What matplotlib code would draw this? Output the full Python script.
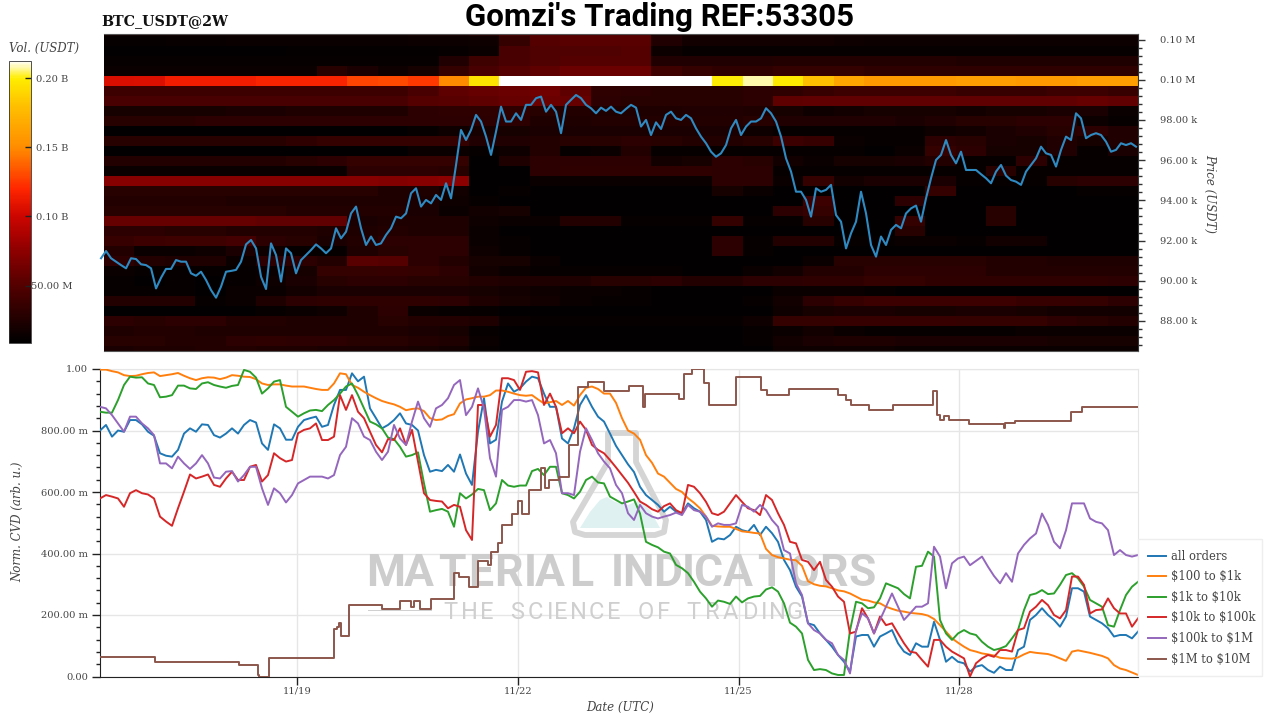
# coding: utf-8
import numpy as np
import matplotlib
matplotlib.use('Agg')
import matplotlib.pyplot as plt
from matplotlib.colors import LinearSegmentedColormap, Normalize
from matplotlib.patches import Polygon, Rectangle
from matplotlib.textpath import TextPath
from matplotlib.font_manager import FontProperties
from matplotlib.ticker import FixedLocator

# --- price, thousands of USDT, one reading every 5 px of the time axis
price = [91.12, 91.48, 91.12, 90.95, 90.78, 90.62, 91.12, 91.08, 90.82, 90.78, 90.62, 89.62, 90.15, 90.59, 90.59,
         91.03, 90.95, 90.95, 90.37, 90.25, 90.45, 90.04, 89.54, 89.16, 89.71, 90.45, 90.49, 90.54, 90.95, 91.81,
         92.03, 91.61, 90.2, 89.59, 91.86, 91.28, 89.96, 91.61, 91.37, 90.37, 91.03, 91.28, 91.53, 91.81, 91.61,
         91.37, 91.61, 92.61, 92.11, 92.44, 93.35, 93.69, 92.61, 91.78, 92.2, 91.78, 91.86, 92.28, 92.61, 93.19,
         93.11, 93.35, 94.35, 94.6, 93.69, 94.02, 93.85, 94.27, 94.02, 94.85, 94.1, 95.76, 97.5, 97.0, 97.5,
         98.25, 97.92, 97.17, 96.26, 97.42, 98.66, 97.92, 97.92, 98.33, 98.0, 98.75, 98.75, 99.08, 99.16, 98.41,
         98.75, 98.41, 97.34, 98.75, 99.0, 99.24, 99.08, 98.75, 98.58, 98.33, 98.61, 98.45, 98.66, 98.41, 98.33,
         98.55, 98.75, 98.61, 97.67, 98.0, 97.25, 97.88, 97.55, 98.25, 98.41, 98.08, 98.0, 98.25, 98.08, 97.58,
         97.17, 96.84, 96.42, 96.17, 96.34, 96.75, 97.58, 98.0, 97.25, 97.67, 97.92, 97.92, 98.08, 98.58, 98.33,
         97.92, 97.17, 96.09, 95.43, 94.43, 94.43, 94.02, 93.19, 94.6, 94.43, 94.52, 94.77, 93.27, 92.94, 91.61,
         92.36, 92.94, 94.43, 93.35, 91.78, 91.2, 92.2, 91.78, 92.53, 92.78, 92.61, 93.35, 93.6, 93.74, 92.94,
         94.1, 95.1, 96.01, 96.26, 97.0, 96.26, 95.84, 96.42, 95.51, 95.51, 95.51, 95.3, 95.1, 94.85, 95.43,
         95.76, 95.23, 95.01, 94.93, 94.77, 95.43, 95.76, 96.09, 96.67, 96.34, 96.26, 95.68, 96.51, 97.17, 97.0,
         98.33, 98.08, 97.09, 97.25, 97.34, 97.25, 96.92, 96.42, 96.51, 96.84, 96.75, 96.84, 96.67]

# --- normalized CVD, one reading every 6 px of the time axis
all_orders = [.80, .818, .78, .80, .796, .834, .834, .82, .796, .783, .726, .718, .715, .737, .79, .807, .796, .82,
              .818, .785, .777, .79, .807, .79, .818, .834, .826, .758, .737, .82, .807, .77, .77, .812, .834, .84,
              .845, .812, .818, .883, .932, .932, .986, .96, .975, .872, .84, .807, .818, .834, .856, .823, .818,
              .80, .72, .666, .672, .668, .688, .666, .722, .66, .623, .796, .905, .758, .77, .894, .953, .926,
              .937, .959, .975, .97, .92, .877, .877, .774, .758, .807, .883, .915, .877, .845, .829, .79, .75,
              .72, .69, .665, .617, .59, .574, .558, .536, .552, .536, .531, .563, .547, .536, .509, .438, .449,
              .446, .46, .487, .476, .471, .493, .46, .487, .466, .438, .379, .346, .292, .26, .173, .167, .14,
              .119, .097, .07, .048, .016, .13, .135, .135, .097, .13, .14, .151, .108, .081, .07, .108, .097,
              .097, .178, .119, .048, .064, .048, .043, .016, .032, .037, .021, .012, .032, .021, .021, .086,
              .097, .184, .20, .222, .20, .184, .162, .195, .287, .287, .276, .195, .184, .173, .157, .13, .135,
              .135, .124, .146]
usd_100_1k = [.998, .998, .993, .989, .98, .977, .978, .983, .987, .989, .977, .98, .983, .987, .978, .97, .964,
              .97, .973, .972, .967, .972, .98, .978, .975, .974, .967, .953, .948, .95, .95, .946, .943, .943,
              .943, .939, .935, .932, .932, .953, .986, .983, .948, .939, .926, .915, .905, .896, .89, .885, .877,
              .866, .87, .872, .863, .84, .834, .836, .847, .853, .888, .901, .905, .91, .91, .915, .93, .93,
              .926, .92, .915, .913, .915, .901, .888, .892, .896, .883, .896, .881, .915, .939, .943, .935, .92,
              .92, .89, .84, .80, .79, .77, .72, .695, .66, .65, .63, .61, .60, .58, .565, .547, .52, .49, .488,
              .487, .487, .48, .472, .47, .467, .465, .415, .395, .388, .384, .38, .378, .36, .31, .30, .295,
              .293, .287, .28, .277, .27, .26, .25, .247, .241, .238, .227, .22, .214, .211, .207, .205, .203,
              .198, .187, .167, .146, .124, .11, .097, .086, .081, .075, .072, .068, .061, .059, .058, .062, .072,
              .08, .077, .075, .073, .067, .059, .051, .081, .085, .081, .077, .072, .067, .059, .037, .026, .021,
              .013, .005]
usd_1k_10k = [.861, .858, .858, .899, .948, .975, .972, .973, .953, .948, .908, .91, .915, .946, .946, .937, .935,
              .953, .957, .948, .943, .939, .945, .948, .997, .991, .972, .92, .937, .959, .964, .877, .861, .845,
              .856, .865, .867, .863, .883, .899, .92, .943, .953, .915, .872, .829, .82, .807, .777, .772, .747,
              .715, .72, .729, .628, .536, .541, .545, .536, .487, .596, .579, .592, .61, .606, .541, .563, .639,
              .621, .617, .621, .621, .668, .675, .655, .682, .682, .596, .59, .579, .601, .639, .65, .631, .628,
              .585, .574, .563, .569, .576, .53, .438, .428, .42, .406, .40, .363, .352, .336, .308, .276, .254,
              .227, .247, .243, .236, .26, .241, .254, .26, .262, .283, .29, .276, .238, .175, .162, .14, .054,
              .021, .024, .021, .01, .005, .005, .15, .243, .238, .222, .225, .254, .303, .295, .287, .268, .254,
              .357, .36, .406, .39, .184, .14, .119, .14, .151, .14, .135, .113, .097, .086, .091, .099, .124,
              .151, .216, .265, .27, .281, .268, .27, .298, .33, .336, .319, .292, .249, .238, .227, .167, .162,
              .216, .265, .292, .308]
usd_10k_100k = [.579, .59, .585, .579, .552, .596, .606, .596, .592, .579, .52, .504, .49, .547, .601, .657, .644,
                .65, .657, .623, .617, .644, .666, .639, .639, .682, .688, .634, .655, .726, .71, .699, .704, .791,
                .802, .807, .823, .769, .769, .78, .915, .867, .915, .861, .84, .796, .753, .729, .772, .769, .807,
                .753, .802, .699, .596, .574, .571, .569, .547, .558, .552, .476, .444, .883, .883, .78, .818, .97,
                .97, .964, .932, .991, .993, .989, .883, .92, .877, .791, .807, .791, .829, .802, .753, .737, .726,
                .704, .68, .655, .63, .60, .569, .558, .544, .536, .554, .563, .541, .531, .623, .617, .596, .568,
                .531, .525, .536, .563, .59, .568, .547, .541, .525, .59, .574, .531, .493, .438, .433, .379, .373,
                .346, .373, .314, .292, .26, .243, .14, .146, .222, .189, .14, .195, .167, .173, .14, .108, .081,
                .077, .054, .032, .119, .119, .097, .081, .07, .059, .0, .043, .059, .07, .064, .086, .086, .081,
                .151, .157, .211, .227, .249, .232, .20, .189, .216, .325, .325, .298, .205, .216, .218, .254, .222,
                .205, .205, .162, .189]
usd_100k_1m = [.877, .872, .85, .823, .796, .845, .845, .823, .807, .785, .693, .693, .677, .715, .693, .675, .693,
               .72, .693, .647, .644, .666, .668, .634, .655, .682, .682, .612, .558, .612, .596, .566, .59, .628,
               .639, .65, .65, .65, .644, .655, .72, .747, .84, .823, .78, .769, .731, .704, .731, .818, .774, .753,
               .829, .894, .84, .812, .872, .883, .905, .948, .964, .85, .877, .937, .872, .71, .65, .867, .877,
               .899, .899, .894, .899, .85, .758, .769, .726, .596, .596, .59, .731, .807, .769, .726, .699, .677,
               .623, .596, .531, .509, .558, .531, .52, .514, .52, .525, .533, .525, .558, .541, .536, .52, .487,
               .498, .493, .493, .498, .558, .552, .536, .558, .541, .509, .487, .411, .40, .303, .265, .173, .151,
               .14, .119, .108, .07, .054, .01, .151, .206, .189, .14, .184, .227, .27, .227, .184, .205, .227,
               .227, .238, .422, .39, .287, .368, .384, .39, .362, .376, .39, .357, .327, .303, .336, .308, .40,
               .428, .449, .465, .53, .493, .438, .417, .476, .563, .563, .563, .514, .503, .498, .476, .395, .411,
               .395, .39, .395]

# the largest size band only moves in steps, so it keeps its own time stamps (day of November)
usd_1m_10m_day = [16.337, 17.07, 18.21, 18.47, 18.484, 18.62, 19.50, 19.54, 19.57, 19.60, 19.71, 20.15, 20.40,
                  20.55, 20.59, 20.67, 20.82, 21.13, 21.20, 21.34, 21.46, 21.60, 21.64, 21.73, 21.79, 21.92,
                  22.00, 22.06, 22.15, 22.32, 22.37, 22.42, 22.56, 22.70, 22.82, 22.95, 23.17, 23.51, 23.70,
                  23.73, 24.19, 24.26, 24.37, 24.53, 24.60, 24.96, 25.30, 25.39, 25.68, 26.35, 26.46, 26.53,
                  26.77, 27.10, 27.64, 27.70, 27.74, 27.79, 27.86, 28.13, 28.61, 28.62, 28.76, 29.52, 29.67, 30.43]
usd_1m_10m = [.062, .048, .037, .005, .0, .059, .156, .162, .173, .131, .232, .218, .246, .227, .246, .221, .252,
              .335, .324, .292, .375, .362, .406, .433, .492, .53, .57, .53, .606, .677, .612, .639, .65, .753,
              .942, .957, .928, .944, .877, .92, .904, .983, .999, .953, .883, .973, .931, .917, .934, .915, .899,
              .883, .866, .883, .929, .85, .834, .847, .834, .821, .807, .825, .831, .861, .875, .875]

# --- order book volume, millions of USDT; rows run from top price bin down, columns are time blocks
volume = [
    [18, 18, 18, 18, 18, 18, 18, 18, 18, 18, 20, 22, 28, 45, 50, 50, 50, 50, 22, 20, 22, 22, 20, 20, 20, 20, 20, 20, 20, 20, 18, 18, 18, 18],
    [12, 12, 13, 13, 14, 14, 14, 14, 14, 14, 15, 15, 16, 35, 50, 52, 52, 52, 25, 18, 18, 18, 18, 18, 16, 15, 15, 15, 15, 15, 15, 15, 15, 15],
    [10, 10, 10, 10, 10, 10, 11, 11, 11, 11, 11, 12, 14, 45, 48, 48, 48, 50, 15, 12, 12, 12, 12, 12, 12, 12, 12, 12, 12, 12, 12, 12, 12, 12],
    [12, 12, 12, 12, 12, 12, 12, 12, 12, 12, 12, 25, 40, 45, 48, 50, 50, 50, 25, 25, 25, 25, 26, 26, 26, 26, 26, 26, 24, 24, 24, 24, 24, 24],
    [14, 14, 14, 14, 14, 14, 14, 28, 22, 16, 20, 35, 45, 50, 55, 60, 60, 60, 40, 35, 32, 32, 35, 35, 35, 32, 32, 32, 32, 32, 32, 32, 32, 32],
    [105, 106, 115, 115, 115, 118, 118, 118, 128, 130, 125, 150, 195, 225, 225, 225, 225, 225, 225, 225, 200, 208, 198, 180, 165, 158, 158, 158, 160, 160, 158, 158, 160, 160],
    [38, 38, 38, 38, 38, 38, 38, 38, 38, 38, 45, 55, 58, 60, 62, 55, 32, 30, 28, 28, 28, 30, 32, 36, 38, 38, 38, 38, 36, 36, 36, 38, 38, 36],
    [45, 45, 45, 45, 45, 45, 45, 45, 45, 45, 50, 52, 55, 58, 60, 58, 30, 28, 28, 28, 28, 30, 55, 56, 56, 56, 56, 56, 56, 56, 56, 56, 58, 56],
    [20, 20, 20, 20, 22, 22, 24, 24, 24, 24, 30, 32, 32, 32, 28, 26, 24, 24, 24, 25, 25, 24, 20, 16, 18, 20, 20, 20, 18, 20, 20, 22, 22, 14],
    [28, 28, 28, 30, 30, 30, 30, 30, 30, 30, 30, 30, 30, 30, 24, 24, 26, 26, 26, 26, 26, 28, 25, 25, 25, 25, 22, 25, 28, 28, 30, 30, 15, 12],
    [10, 10, 10, 10, 10, 10, 10, 10, 10, 10, 12, 16, 20, 20, 22, 22, 22, 22, 22, 22, 22, 16, 12, 12, 12, 12, 12, 16, 18, 22, 25, 28, 30, 25],
    [28, 28, 28, 28, 28, 28, 32, 34, 34, 34, 34, 34, 25, 25, 26, 28, 28, 30, 28, 26, 26, 28, 38, 36, 14, 12, 12, 30, 28, 22, 20, 25, 20, 25],
    [10, 10, 10, 10, 10, 10, 10, 10, 10, 10, 14, 14, 12, 16, 26, 12, 14, 26, 12, 12, 12, 12, 12, 12, 12, 10, 14, 35, 30, 20, 20, 25, 12, 22],
    [26, 26, 26, 26, 26, 26, 28, 30, 34, 34, 34, 34, 10, 24, 30, 30, 30, 30, 18, 20, 30, 28, 18, 14, 20, 20, 22, 26, 12, 12, 30, 12, 12, 12],
    [14, 14, 14, 14, 14, 14, 14, 14, 30, 30, 30, 28, 10, 10, 30, 32, 32, 32, 32, 32, 30, 30, 12, 12, 12, 12, 12, 12, 12, 28, 12, 12, 12, 12],
    [72, 72, 72, 72, 72, 72, 72, 72, 72, 70, 72, 75, 10, 10, 14, 14, 14, 14, 14, 14, 30, 30, 14, 35, 18, 22, 22, 22, 12, 12, 12, 28, 30, 30],
    [28, 28, 28, 28, 28, 28, 28, 28, 28, 24, 24, 18, 10, 12, 10, 10, 10, 10, 10, 10, 20, 14, 10, 10, 10, 10, 10, 35, 10, 10, 10, 10, 12, 12],
    [26, 26, 26, 26, 24, 24, 24, 24, 24, 24, 22, 16, 12, 10, 10, 10, 10, 10, 10, 10, 10, 10, 10, 38, 10, 10, 30, 10, 10, 10, 10, 10, 10, 10],
    [28, 28, 28, 28, 28, 28, 26, 26, 26, 26, 22, 14, 18, 20, 10, 10, 10, 10, 10, 10, 10, 10, 30, 35, 10, 10, 10, 10, 10, 28, 10, 10, 10, 10],
    [58, 58, 58, 58, 58, 56, 56, 56, 22, 24, 24, 24, 16, 14, 14, 26, 26, 12, 12, 12, 34, 12, 12, 28, 10, 10, 35, 10, 10, 28, 10, 10, 10, 10],
    [30, 30, 28, 28, 26, 26, 26, 24, 24, 26, 24, 24, 14, 10, 10, 10, 10, 10, 10, 10, 10, 10, 10, 10, 10, 10, 28, 10, 10, 10, 10, 10, 10, 10],
    [36, 38, 40, 40, 42, 30, 28, 22, 26, 30, 30, 30, 14, 12, 10, 10, 10, 10, 10, 10, 30, 12, 26, 26, 12, 12, 14, 14, 12, 18, 18, 10, 10, 10],
    [26, 14, 14, 16, 22, 16, 12, 12, 24, 28, 30, 30, 16, 12, 10, 10, 10, 10, 10, 10, 30, 12, 10, 10, 10, 10, 10, 10, 10, 10, 10, 10, 10, 10],
    [30, 26, 24, 24, 14, 30, 30, 26, 52, 50, 30, 26, 20, 20, 14, 10, 10, 10, 10, 10, 10, 10, 10, 14, 28, 28, 28, 28, 28, 26, 26, 24, 24, 24],
    [14, 12, 12, 12, 12, 14, 20, 34, 34, 36, 34, 30, 18, 14, 12, 12, 12, 12, 12, 10, 10, 14, 18, 26, 26, 30, 30, 30, 30, 26, 26, 26, 26, 26],
    [12, 10, 12, 10, 12, 16, 22, 28, 30, 30, 28, 28, 26, 24, 24, 24, 28, 28, 30, 26, 26, 30, 30, 32, 32, 34, 34, 32, 32, 32, 32, 32, 32, 30],
    [12, 12, 12, 10, 14, 14, 18, 22, 22, 22, 22, 22, 20, 18, 16, 14, 14, 12, 10, 10, 10, 10, 14, 14, 14, 12, 10, 10, 10, 10, 10, 10, 10, 10],
    [26, 26, 26, 12, 14, 24, 30, 32, 32, 32, 32, 30, 24, 20, 18, 14, 12, 12, 10, 10, 10, 12, 18, 30, 36, 38, 38, 38, 38, 38, 36, 36, 34, 30],
    [10, 10, 10, 10, 10, 12, 14, 16, 24, 30, 14, 12, 12, 10, 10, 10, 10, 10, 10, 10, 10, 10, 16, 20, 22, 22, 20, 20, 22, 22, 20, 18, 18, 18],
    [30, 28, 30, 30, 26, 26, 24, 24, 24, 28, 26, 26, 24, 14, 12, 12, 12, 12, 12, 12, 12, 16, 34, 34, 36, 36, 36, 36, 34, 34, 34, 30, 28, 26],
    [24, 26, 26, 24, 24, 24, 24, 24, 24, 24, 22, 20, 12, 10, 10, 10, 10, 10, 10, 10, 10, 12, 14, 18, 14, 12, 12, 12, 12, 12, 14, 14, 14, 14],
    [28, 28, 26, 26, 30, 32, 30, 30, 28, 28, 26, 24, 14, 10, 10, 10, 10, 10, 10, 10, 10, 12, 18, 22, 24, 24, 22, 22, 22, 22, 22, 20, 20, 20],
    [22, 24, 24, 26, 26, 24, 24, 22, 22, 22, 20, 18, 12, 10, 10, 10, 10, 10, 10, 10, 10, 10, 16, 16, 16, 16, 14, 14, 14, 14, 14, 14, 14, 14],
]

legend_labels = ['all orders', '$100 to $1k', '$1k to $10k', '$10k to $100k', '$100k to $1M', '$1M to $10M']
line_colors = ['#1f77b4', '#ff7f0e', '#2ca02c', '#d62728', '#9467bd', '#8c564b']

price_ticks = [88, 90, 92, 94, 96, 98, 100, 102]
price_labels = ['88.00 k', '90.00 k', '92.00 k', '94.00 k', '96.00 k', '98.00 k', '0.10 M', '0.10 M']
cvd_ticks = [0, .2, .4, .6, .8, 1]
cvd_labels = ['0.00', '200.00 m', '400.00 m', '600.00 m', '800.00 m', '1.00']
date_ticks = [19, 22, 25, 28]
date_labels = ['11/19', '11/22', '11/25', '11/28']
vol_ticks = [50, 100, 150, 200]
vol_labels = ['50.00 M', '0.10 B', '0.15 B', '0.20 B']

W, H = 1280, 720
DAY0, DAY1 = 16.323, 30.427
SERIF = 'DejaVu Serif'
GREY = '#444444'
TICK_SIZE = 7.1

plt.rcParams['font.family'] = SERIF
plt.rcParams['text.parse_math'] = False


def box(x0, y0, x1, y1):
    # pixel box, y from the top, to figure fractions
    return [x0 / W, 1 - y1 / H, (x1 - x0) / W, (y1 - y0) / H]


def fx(x):
    return x / W


def fy(y):
    return 1 - y / H


def spaced_text(ax, s, x0, x1, y, size, weight, color, space):
    # watermark letters spread out to a given pixel width
    fp = FontProperties(family='Roboto', weight=weight, size=size)
    widths = []
    for ch in s:
        w = TextPath((0, 0), ch if ch != ' ' else 'n', size=size * 100 / 72, prop=fp).get_extents().width
        widths.append(w * (space if ch == ' ' else 1))
    gap = (x1 - x0 - sum(widths)) / (len(s) - 1)
    x = x0
    for ch, w in zip(s, widths):
        if ch != ' ':
            ax.text(fx(x), fy(y), ch, transform=fig.transFigure, fontproperties=fp, color=color,
                    va='baseline', ha='left', zorder=1.5, clip_on=False)
        x += w + gap


fig = plt.figure(figsize=(W / 100, H / 100), dpi=100)

# --- top panel: heatmap and price
ax1 = fig.add_axes(box(100, 33.5, 1138, 351))
nrow = len(volume)
ncol = len(volume[0])
day_left = DAY0 + (DAY1 - DAY0) * 4 / 1038
day_edges = np.linspace(day_left, DAY1, ncol + 1)
price_edges = np.linspace(102.68, 102.68 - 0.4975 * nrow, nrow + 1)
vmin, vmax = 8.5, 212.3
stops = [(0, '#000000'), (.204, '#540000'), (.35, '#990000'), (.449, '#cc0500'), (.547, '#ff2600'),
         (.694, '#ff8c00'), (.84, '#ffbf00'), (.94, '#ffed00'), (1, '#ffffff')]
vol_cmap = LinearSegmentedColormap.from_list('vol', stops)
mesh = ax1.pcolormesh(day_edges, price_edges, np.array(volume), cmap=vol_cmap,
                      norm=Normalize(vmin, vmax), shading='flat')
price_days = np.linspace(16.337, 30.40, len(price))
ax1.plot(price_days, price, color='#2f8ac2', lw=1.5, clip_on=False, zorder=3)
ax1.set_xlim(DAY0, DAY1)
ax1.set_ylim(88 - 30 / 20.1, 102 + 6 / 20.1)
ax1.yaxis.tick_right()
ax1.yaxis.set_major_locator(FixedLocator(price_ticks))
ax1.set_yticklabels(price_labels)
ax1.yaxis.set_minor_locator(FixedLocator(list(np.arange(86.8, 102.3, 0.4))))
ax1.tick_params(axis='y', which='major', length=5, width=1, color='#333333', labelsize=TICK_SIZE, labelcolor=GREY, pad=11)
ax1.tick_params(axis='y', which='minor', length=3, width=1, color='#333333')
ax1.set_xticks([])
ax1.spines['left'].set_visible(False)
for side in ['top', 'bottom']:
    ax1.spines[side].set_bounds(day_left, DAY1)
    ax1.spines[side].set_color('#555555')
ax1.spines['right'].set_color('#333333')
fig.text(fx(1210), fy(193), 'Price (USDT)', rotation=270, style='italic', fontsize=8.5, color=GREY,
         ha='center', va='center')
fig.text(fx(101), fy(25), 'BTC_USDT@2W', fontsize=10.3, fontweight='bold', color='#111111', ha='left', va='baseline')
fig.text(fx(660), fy(25.5), "Gomzi's Trading REF:53305", family='Roboto', fontweight='bold', fontsize=22.5,
         color='black', ha='center', va='baseline')

# --- colour bar
cax = fig.add_axes(box(9, 61, 31, 343))
cb = fig.colorbar(mesh, cax=cax)
cb.set_ticks(vol_ticks)
cb.set_ticklabels(vol_labels)
cb.ax.minorticks_off()
cb.ax.tick_params(length=4, width=1, direction='in', color='#222222', labelsize=TICK_SIZE, labelcolor=GREY, pad=15)
for lab in cb.ax.get_yticklabels():
    lab.set_ha('center')
cb.outline.set_edgecolor('#333333')
cb.outline.set_linewidth(0.6)
fig.text(fx(44.5), fy(52), 'Vol. (USDT)', style='italic', fontsize=8.5, color=GREY, ha='center', va='baseline')

# --- bottom panel: normalized CVD
ax2 = fig.add_axes(box(100, 369, 1138, 676.5))
cvd_series = [all_orders, usd_100_1k, usd_1k_10k, usd_10k_100k, usd_100k_1m]
cvd_days = np.linspace(DAY0, DAY1, len(all_orders))
for vals, col, lab in zip(cvd_series, line_colors, legend_labels):
    ax2.plot(cvd_days, vals, color=col, lw=1.4, label=lab, zorder=3)
ax2.plot(usd_1m_10m_day, usd_1m_10m, color=line_colors[5], lw=1.4, label=legend_labels[5], zorder=3,
         drawstyle='steps-post')
ax2.set_xlim(DAY0, DAY1)
ax2.set_ylim(0, 1)
ax2.set_xticks(date_ticks)
ax2.set_xticklabels(date_labels)
ax2.set_yticks(cvd_ticks)
ax2.set_yticklabels(cvd_labels)
ax2.yaxis.set_minor_locator(FixedLocator(list(np.arange(0, 1.001, 0.04))))
ax2.grid(True, color='#e6e6e6', lw=1)
ax2.set_axisbelow(True)
ax2.tick_params(axis='both', which='major', length=6, width=1, color='#222222', labelsize=TICK_SIZE, labelcolor=GREY)
ax2.tick_params(axis='y', which='minor', length=3, width=1, color='#222222')
ax2.tick_params(axis='y', pad=2.5)
ax2.tick_params(axis='x', pad=1.5)
ax2.spines['top'].set_color('#e6e6e6')
ax2.spines['right'].set_color('#e6e6e6')
ax2.spines['left'].set_color('#222222')
ax2.spines['bottom'].set_color('#222222')
fig.text(fx(18), fy(522), 'Norm. CVD (arb. u.)', rotation=90, style='italic', fontsize=8.5, color=GREY,
         ha='center', va='center')
fig.text(fx(620.5), fy(707), 'Date (UTC)', style='italic', fontsize=8.5, color=GREY, ha='center', va='center')

legend_box = box(1138, 539, 1262, 676)
leg = ax2.legend(loc='lower left', bbox_to_anchor=legend_box, bbox_transform=fig.transFigure, mode='expand',
                 frameon=True, fancybox=False, fontsize=8.3, labelcolor=GREY, handlelength=1.55, handletextpad=0.4,
                 labelspacing=0.66, borderpad=0.9, borderaxespad=0, edgecolor='#eeeeee', framealpha=1)
leg.get_frame().set_linewidth(1)

# --- watermark, under the lines
flask = [(608, 433), (636, 433), (636, 462), (666, 520), (664, 532), (655, 535), (585, 535), (575, 532),
         (573, 522), (608, 462)]
liquid = [(580, 528), (590, 512), (600, 500), (607, 497), (615, 502), (628, 505), (640, 500), (650, 510), (660, 528)]
ax2.add_patch(Polygon([(fx(x), fy(y)) for x, y in liquid], closed=True, transform=fig.transFigure,
                      facecolor='#dff1f1', edgecolor='none', zorder=1.4, clip_on=False))
ax2.add_patch(Polygon([(fx(x), fy(y)) for x, y in flask], closed=True, transform=fig.transFigure,
                      facecolor='none', edgecolor='#d5d5d5', lw=4.2, joinstyle='round', zorder=1.5, clip_on=False))
spaced_text(ax2, 'MATERIAL INDICATORS', 366, 873, 586, 32, 'bold', '#cdcdcd', 0.6)
spaced_text(ax2, 'THE SCIENCE OF TRADING', 443, 800, 619, 17, 'normal', '#cfcfcf', 0.9)
for x0, x1 in [(368, 432), (808, 870)]:
    ax2.add_patch(Rectangle((fx(x0), fy(611)), (x1 - x0) / W, 1.5 / H, transform=fig.transFigure,
                            facecolor='#d0d0d0', edgecolor='none', zorder=1.5, clip_on=False))

fig.savefig('out.png', dpi=100)
